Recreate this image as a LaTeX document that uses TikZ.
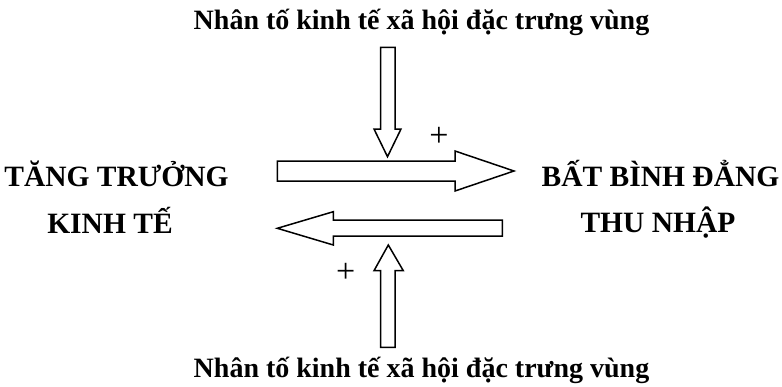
\documentclass[tikz,border=0pt]{standalone}
\usepackage{fontspec}
\setmainfont{Liberation Serif}
\usepackage{tikz}
\usetikzlibrary{positioning}

\begin{document}
\begin{tikzpicture}[
x=1pt, y=-1pt,
label/.style={font=\fontsize{28}{32}\selectfont\bfseries, inner sep=0pt, anchor=base},
caps/.style={label, font=\fontsize{29.5}{34}\selectfont\bfseries},
blockarrow/.style={draw, line width=1.5pt, line join=miter, fill=white},
sign/.style={font=\fontsize{34}{38}\selectfont, inner sep=0pt}
]
\useasboundingbox (0,0) rectangle (782,386);

% texts
\node (topfactor) [label] at (421.5,29) {Nhân tố kinh tế xã hội đặc trưng vùng};
\node (growth) [caps] at (116.5,186) {TĂNG TRƯỞNG};
\node (growth2) [caps] at (110,233) {KINH TẾ};
\node (inequal) [caps] at (660.5,186.5) {BẤT BÌNH ĐẲNG};
\node (inequal2) [caps] at (658,232.5) {THU NHẬP};
\node (botfactor) [label] at (421.5,377) {Nhân tố kinh tế xã hội đặc trưng vùng};

% block arrows
\draw [blockarrow] (380.7,47.3) -- (395,47.3) -- (395,129) -- (401,129)
  -- (387.5,156.7) -- (374,129) -- (380.7,129) -- cycle;
\draw [blockarrow] (277.3,161) -- (455,161) -- (455,151) -- (514,171)
  -- (455,191) -- (455,181) -- (277.3,181) -- cycle;
\draw [blockarrow] (502.3,220) -- (333.3,220) -- (333.3,211.7) -- (277.3,228.3)
  -- (333.3,245) -- (333.3,236) -- (502.3,236) -- cycle;
\draw [blockarrow] (380.7,347.3) -- (395,347.3) -- (395,270.7) -- (403.3,270.7)
  -- (388.3,245) -- (374,270.7) -- (380.7,270.7) -- cycle;

% signs
\node (plusA) [sign] at (439,136.7) {+};
\node (plusB) [sign] at (345.7,272.7) {+};
\end{tikzpicture}
\end{document}
